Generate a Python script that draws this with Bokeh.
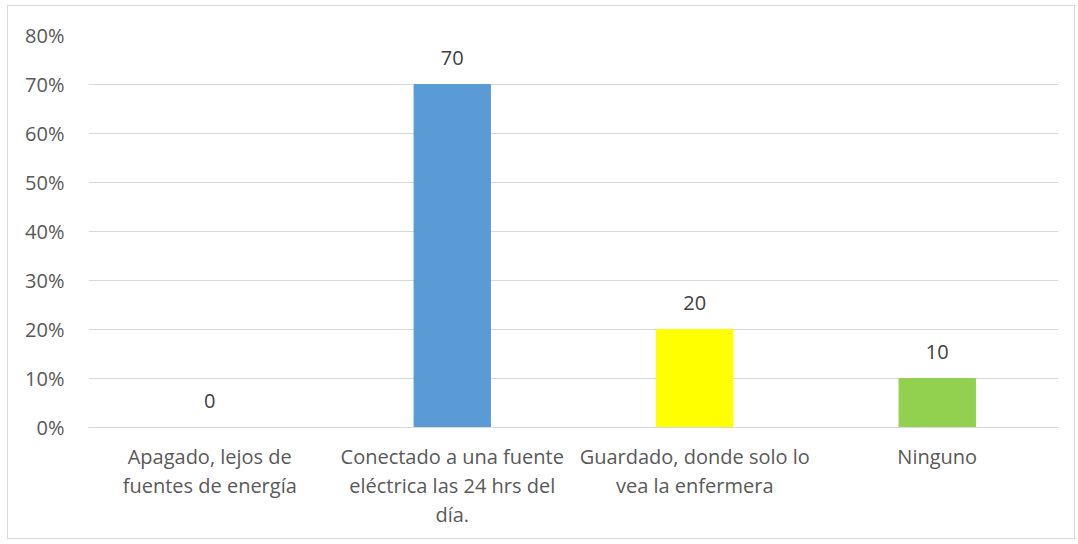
from bokeh.plotting import figure
from bokeh.models import ColumnDataSource, LabelSet, CustomJSTickFormatter, FixedTicker, Range1d
from bokeh.core.properties import value
from bokeh.embed import file_html
from bokeh.resources import INLINE

categories = ["Apagado, lejos de\nfuentes de energía",
              "Conectado a una fuente\neléctrica las 24 hrs del\ndía.",
              "Guardado, donde solo lo\nvea la enfermera",
              "Ninguno"]
values = [0, 70, 20, 10]
colors = ["#5B9BD5", "#5B9BD5", "#FFFF00", "#92D050"]
labels = ["0", "70", "20", "10"]
yticks = [0, 10, 20, 30, 40, 50, 60, 70, 80]

FONT = "Open Sans"
TXT = "#595959"

src = ColumnDataSource(dict(cat=categories, val=values, col=colors, lab=labels))

p = figure(x_range=categories, y_range=Range1d(0, 80), width=1068, height=534,
           output_backend="svg", toolbar_location=None,
           min_border_left=80, min_border_right=18, min_border_top=29, min_border_bottom=113)
p.styles = {"border": "1px solid #d9d9d9", "margin-left": "7px", "margin-top": "5px"}

p.vbar(x="cat", top="val", width=0.315, color="col", source=src)

p.add_layout(LabelSet(x="cat", y="val", text="lab", source=src, y_offset=20,
                      text_align="center", text_baseline="bottom",
                      text_font_size="20px", text_font=value(FONT), text_color="#404040"))

p.yaxis.ticker = FixedTicker(ticks=yticks)
p.yaxis.formatter = CustomJSTickFormatter(code="return tick + '%';")
p.yaxis.axis_line_color = None
p.yaxis.major_tick_line_color = None
p.yaxis.minor_tick_line_color = None
p.yaxis.major_label_text_font = FONT
p.yaxis.major_label_text_font_size = "20px"
p.yaxis.major_label_text_color = TXT
p.yaxis.major_label_standoff = 18

p.xaxis.axis_line_color = "#d9d9d9"
p.xaxis.axis_line_width = 1
p.xaxis.major_tick_line_color = None
p.xaxis.minor_tick_line_color = None
p.xaxis.major_label_text_font = FONT
p.xaxis.major_label_text_font_size = "20px"
p.xaxis.major_label_text_color = TXT
p.xaxis.major_label_text_line_height = 1.08
p.xaxis.major_label_standoff = 9
p.xaxis.major_label_orientation = "horizontal"

p.xgrid.grid_line_color = None
p.ygrid.grid_line_color = "#d9d9d9"
p.outline_line_color = None

open("out.html", "w").write(file_html(p, INLINE))
